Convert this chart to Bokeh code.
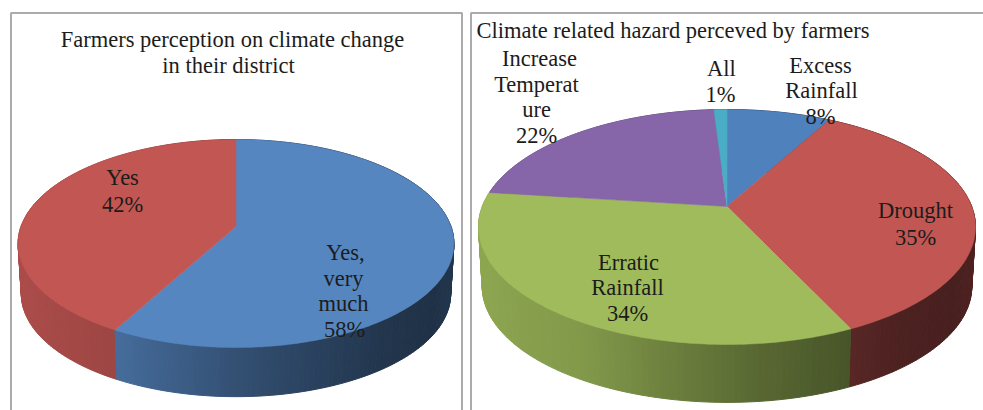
import math

from bokeh.core.properties import value
from bokeh.embed import file_html
from bokeh.layouts import row
from bokeh.models import Range1d
from bokeh.plotting import figure
from bokeh.resources import INLINE

# Survey shares, in clockwise order from twelve o'clock
perception_labels = ["Yes, very much", "Yes"]
perception_values = [58, 42]

hazard_labels = ["Excess Rainfall", "Drought", "Erratic Rainfall", "Increase Temperature", "All"]
hazard_values = [8, 35, 34, 22, 1]

perception_title = ["Farmers perception on climate change", "in their district"]
hazard_title = ["Climate related hazard perceved by farmers"]

# Slice colours
perception_colors = ["#5686c0", "#c15653"]
hazard_colors = ["#4f81bd", "#c15653", "#9fbb5b", "#8666a8", "#4bacc6"]

# Projection of each disc: apex, half-width A, half-height B, perspective k,
# drop of the lower disc, scale of the lower disc
perception_disc = dict(cx=235.5, cy=226.0, A=215.0, B=101.2, k=0.1635, drop=51.0, scale=0.985)
hazard_disc = dict(cx=726.5, cy=206.0, A=244.7, B=113.9, k=0.1744, drop=60.0, scale=0.985)

# Wrapped slice labels as (text, x, y) rows
perception_text = [
    ("Yes", 122, 177), ("42%", 122, 204),
    ("Yes,", 345, 252), ("very", 343, 278), ("much", 343, 303), ("58%", 344, 329),
]
hazard_text = [
    ("Increase", 539, 58), ("Temperat", 536, 84), ("ure", 536, 109), ("22%", 536, 135),
    ("All", 721, 68), ("1%", 720, 94),
    ("Excess", 820, 65), ("Rainfall", 821, 90), ("8%", 820, 116),
    ("Drought", 915, 210), ("35%", 915, 237),
    ("Erratic", 628, 262), ("Rainfall", 627, 287), ("34%", 627, 313),
]

FONT = "Liberation Serif"
INK = "#1c1c1c"
FRAME = "#ababab"
# Side-wall brightness across the width of a pie: (fraction, factor)
SHADE = [(0.0, 0.90), (0.25, 0.82), (0.55, 0.56), (0.8, 0.40), (0.92, 0.37), (1.0, 0.42)]


def project(disc, theta, lower=False):
    """Map an angle clockwise from the top of the disc to canvas coordinates."""
    u, v = math.sin(theta), math.cos(theta)
    w = 1 + disc["k"] * v
    x, y = disc["A"] * u / w, -disc["B"] * v / w
    if lower:
        return disc["cx"] + x * disc["scale"], disc["cy"] + disc["drop"] + y * disc["scale"]
    return disc["cx"] + x, disc["cy"] + y


def shade_factor(frac):
    for (a, fa), (b, fb) in zip(SHADE, SHADE[1:]):
        if frac <= b:
            return fa + (fb - fa) * (frac - a) / (b - a)
    return SHADE[-1][1]


def darken(color, factor):
    r, g, b = (int(color[i:i + 2], 16) for i in (1, 3, 5))
    return "#%02x%02x%02x" % (int(r * factor), int(g * factor), int(b * factor))


def draw_pie(p, disc, values, colors):
    total = sum(values)
    walls, tops = [], []
    start = 0.0
    for val, color in zip(values, colors):
        t0 = 2 * math.pi * start / total
        t1 = 2 * math.pi * (start + val) / total
        steps = max(2, int(val * 3))
        angles = [t0 + (t1 - t0) * i / steps for i in range(steps + 1)]
        for a, b in zip(angles, angles[1:]):
            pts = [project(disc, a), project(disc, b),
                   project(disc, b, True), project(disc, a, True)]
            frac = 0.5 + 0.5 * math.sin((a + b) / 2)
            walls.append((math.cos((a + b) / 2), pts, darken(color, shade_factor(frac))))
        rim = [project(disc, a) for a in angles]
        tops.append(([disc["cx"]] + [q[0] for q in rim],
                     [disc["cy"]] + [q[1] for q in rim], color))
        start += val

    # Walls are painted from the back of the disc to the front
    walls.sort(key=lambda item: -item[0])
    p.patches([[q[0] for q in w[1]] for w in walls], [[q[1] for q in w[1]] for w in walls],
              fill_color=[w[2] for w in walls], line_color=[w[2] for w in walls], line_width=1)
    p.patches([t[0] for t in tops], [t[1] for t in tops],
              fill_color=[t[2] for t in tops], line_color=[t[2] for t in tops], line_width=0.5)


def draw_text(p, rows, size="22.5px", align="center"):
    p.text([r[1] for r in rows], [r[2] for r in rows], text=[r[0] for r in rows],
           text_font=value(FONT), text_font_size=size, text_color=INK,
           text_align=align, text_baseline="middle")


def panel(width, x0):
    p = figure(width=width, height=410, output_backend="svg", toolbar_location=None,
               x_range=Range1d(x0, x0 + width), y_range=Range1d(410, 0),
               min_border=0, outline_line_color=None, background_fill_color="white",
               border_fill_color="white")
    p.axis.visible = False
    p.grid.visible = False
    return p


left = panel(466, 0)
left.line([10.5, 10.5, 461.5, 461.5], [410, 12.5, 12.5, 410], line_color=FRAME, line_width=2)
draw_pie(left, perception_disc, perception_values, perception_colors)
draw_text(left, [(perception_title[0], 232, 39), (perception_title[1], 228, 65)])
draw_text(left, perception_text)

right = panel(517, 466)
right.line([470.5, 470.5, 983], [410, 12.5, 12.5], line_color=FRAME, line_width=2)
draw_pie(right, hazard_disc, hazard_values, hazard_colors)
draw_text(right, [(hazard_title[0], 476, 30)], align="left")
draw_text(right, hazard_text)

page = row(left, right, spacing=0)
open("out.html", "w").write(file_html(page, INLINE))
